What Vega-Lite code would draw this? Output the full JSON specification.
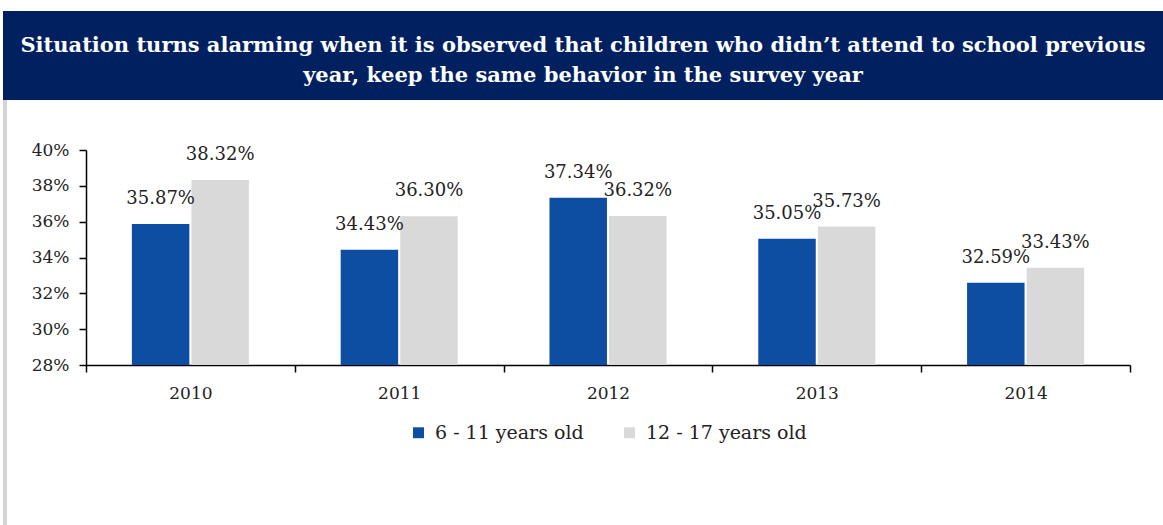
{
  "$schema": "https://vega.github.io/schema/vega-lite/v6.json",
  "padding": {"left": 3, "top": 11, "right": 0, "bottom": 0},
  "background": "white",
  "columns": 1,
  "align": "none",
  "spacing": 0,
  "resolve": {"legend": {"color": "independent"}, "scale": {"color": "independent"}},
  "config": {"legend": {"layout": {"bottom": {"anchor": "middle"}}}},
  "concat": [
    {
      "width": 1160,
      "height": 89,
      "view": {"fill": "#002060", "stroke": null},
      "data": {"values": [{}]},
      "mark": {
        "type": "text",
        "text": ["Situation turns alarming when it is observed that children who didn’t attend to school previous", "year, keep the same behavior in the survey year"],
        "align": "center",
        "baseline": "middle",
        "dy": -10,
        "lineHeight": 30,
        "font": "DejaVu Serif",
        "fontWeight": "bold",
        "fontSize": 21,
        "color": "white"
      },
      "encoding": {}
    },
    {
      "columns": 2,
      "align": "none",
      "spacing": 0,
      "resolve": {"legend": {"color": "independent"}, "scale": {"color": "independent"}},
      "concat": [
        {
          "width": 4,
          "height": 425,
          "view": {"fill": "#d4d4d4", "stroke": null},
          "data": {"values": [{}]},
          "mark": {"type": "text", "text": ""},
          "encoding": {}
        },
        {
          "spacing": 0,
          "resolve": {"legend": {"color": "independent"}, "scale": {"color": "independent"}},
          "vconcat": [
            {
              "width": 1044,
              "height": 41,
              "view": {"stroke": null},
              "data": {"values": [{}]},
              "mark": {"type": "text", "text": ""},
              "encoding": {}
            },
            {
              "width": 1044,
              "height": 215,
              "view": {"stroke": null},
              "data": {
                "values": [
                  {"year": "2010", "group": "6 - 11 years old", "value": 0.3587},
                  {"year": "2010", "group": "12 - 17 years old", "value": 0.3832},
                  {"year": "2011", "group": "6 - 11 years old", "value": 0.3443},
                  {"year": "2011", "group": "12 - 17 years old", "value": 0.3630},
                  {"year": "2012", "group": "6 - 11 years old", "value": 0.3734},
                  {"year": "2012", "group": "12 - 17 years old", "value": 0.3632},
                  {"year": "2013", "group": "6 - 11 years old", "value": 0.3505},
                  {"year": "2013", "group": "12 - 17 years old", "value": 0.3573},
                  {"year": "2014", "group": "6 - 11 years old", "value": 0.3259},
                  {"year": "2014", "group": "12 - 17 years old", "value": 0.3343}
                ]
              },
              "encoding": {
                "x": {
                  "field": "year",
                  "type": "nominal",
                  "scale": {"paddingInner": 0, "paddingOuter": 0},
                  "axis": {
                    "title": null,
                    "labelAngle": 0,
                    "tickBand": "extent",
                    "tickSize": 7,
                    "tickColor": "#000",
                    "domainColor": "#000",
                    "domainWidth": 1.5,
                    "tickWidth": 1.5,
                    "labelFont": "DejaVu Serif",
                    "labelFontSize": 17,
                    "labelColor": "#222",
                    "labelPadding": 13
                  }
                },
                "xOffset": {
                  "field": "group",
                  "sort": ["6 - 11 years old", "12 - 17 years old"],
                  "scale": {"paddingInner": 0.035, "paddingOuter": 0.77}
                },
                "y": {
                  "field": "value",
                  "type": "quantitative",
                  "scale": {"domain": [0.28, 0.40], "zero": false, "nice": false},
                  "axis": {
                    "title": null,
                    "values": [0.28, 0.30, 0.32, 0.34, 0.36, 0.38, 0.40],
                    "format": ".0%",
                    "grid": false,
                    "tickSize": 7,
                    "tickColor": "#000",
                    "domainColor": "#000",
                    "domainWidth": 1.5,
                    "tickWidth": 1.5,
                    "labelFont": "DejaVu Serif",
                    "labelFontSize": 17,
                    "labelColor": "#222",
                    "labelPadding": 10,
                    "minExtent": 79,
                    "maxExtent": 79
                  }
                }
              },
              "layer": [
                {
                  "mark": {"type": "bar", "clip": true},
                  "encoding": {
                    "color": {
                      "field": "group",
                      "type": "nominal",
                      "scale": {"domain": ["6 - 11 years old", "12 - 17 years old"], "range": ["#0d4ea3", "#d9d9d9"]},
                      "legend": {
                        "title": null,
                        "orient": "bottom",
                        "direction": "horizontal",
                        "offset": 22,
                        "symbolType": "square",
                        "symbolSize": 120,
                        "symbolStrokeWidth": 0,
                        "labelFont": "DejaVu Serif",
                        "labelFontSize": 19,
                        "labelLimit": 400,
                        "labelColor": "#222",
                        "columnPadding": 36,
                        "labelOffset": 7
                      }
                    }
                  }
                },
                {
                  "mark": {
                    "type": "text",
                    "dy": -20,
                    "baseline": "alphabetic",
                    "align": "center",
                    "font": "DejaVu Serif",
                    "fontSize": 18,
                    "color": "#222"
                  },
                  "encoding": {
                    "text": {"field": "value", "type": "quantitative", "format": ".2%"}
                  }
                }
              ]
            }
          ]
        }
      ]
    }
  ]
}
